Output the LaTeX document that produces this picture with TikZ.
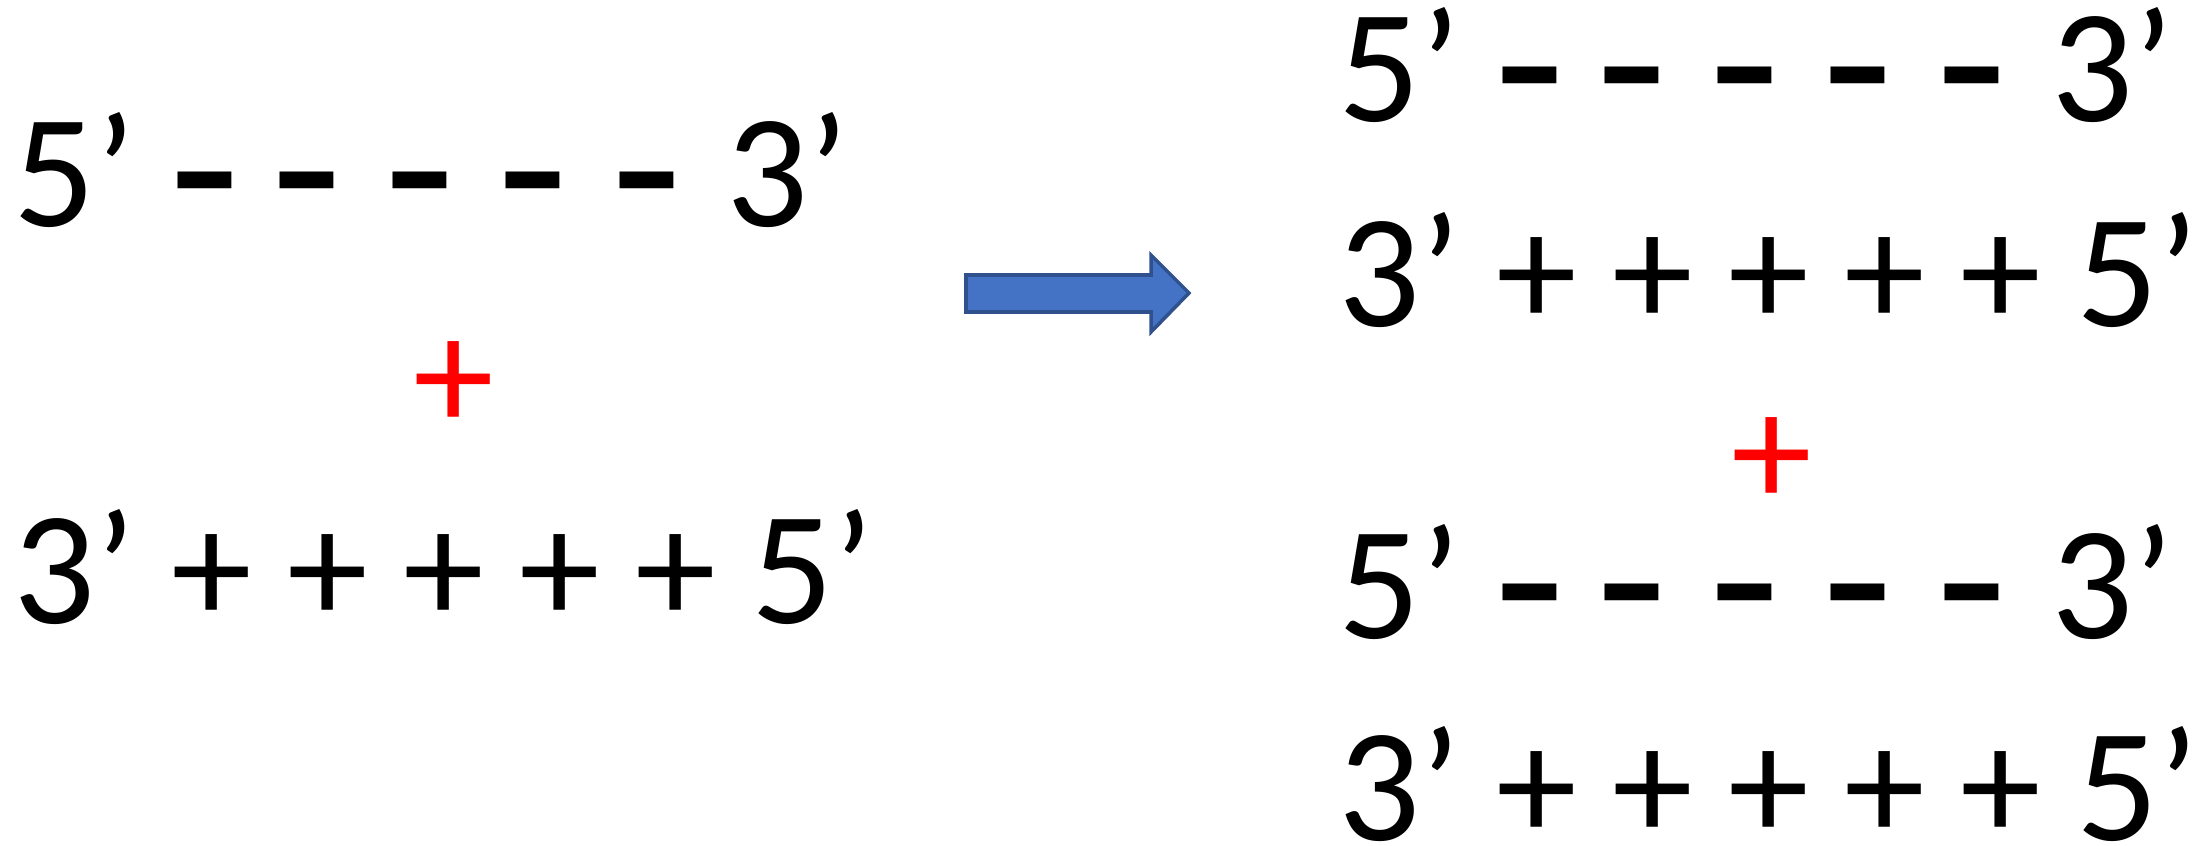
\documentclass[tikz,border=0pt]{standalone}
\usepackage{graphicx}
\usepackage{fontspec}
\setmainfont{Carlito}
\definecolor{arrowblue}{HTML}{4472C4}
\definecolor{arrowedge}{HTML}{2F528F}
\tikzset{
  strandend/.style={font=\fontsize{46}{50}\selectfont, inner sep=0pt, anchor=base},
  charge/.style={font=\fontsize{46}{50}\selectfont, inner sep=0pt, anchor=base},
  joinplus/.style={font=\fontsize{46}{50}\selectfont, inner sep=0pt, text=red},
  arrowbox/.style={fill=arrowblue, draw=arrowedge, line width=1pt, line join=miter}
}
\begin{document}
\begin{tikzpicture}[x=0.01cm, y=-0.01cm]
  \useasboundingbox (0,0) rectangle (2211,845);
  % strands with negative charges
  \foreach \s/\dx/\by in {a/0/226, c/1325/121, e/1325/638} {
    \node[strandend] (\s-five) at (75+\dx, \by) {5’};
    \foreach \x [count=\i] in {205, 307, 420, 533, 647}
      \node[charge] (\s-m\i) at (\x+\dx, \by) {\scalebox{1.35}[1]{\textbf{-}}};
    \node[strandend] (\s-three) at (788+\dx, \by) {3’};
  }
  % strands with positive charges
  \foreach \s/\dx/\by in {b/0/623, d/1325/326, f/1325/840} {
    \node[strandend] (\s-three) at (75+\dx, \by) {3’};
    \foreach \x [count=\i] in {212, 328, 444, 560, 676}
      \node[charge] (\s-p\i) at (\x+\dx, \by) {+};
    \node[strandend] (\s-five) at (813+\dx, \by) {5’};
  }
  \node[joinplus] (join-l) at (454, 386) {+};
  \node[joinplus] (join-r) at (1772, 462) {+};
  % block arrow
  \draw[arrowbox] (966,275) -- (1151,275) -- (1151,255) -- (1189,293)
    -- (1151,332) -- (1151,312) -- (966,312) -- cycle;
\end{tikzpicture}
\end{document}
